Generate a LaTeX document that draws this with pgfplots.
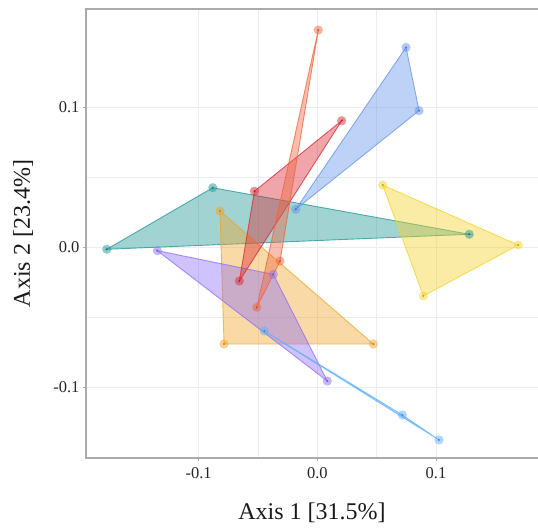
\documentclass[border=0pt]{standalone}
\usepackage{pgfplots}
\pgfplotsset{compat=1.18}
\usepackage{fontspec}
\setmainfont{Liberation Serif}
\definecolor{ctomato}{RGB}{240,100,60}
\definecolor{cred}{RGB}{218,40,50}
\definecolor{cblue}{RGB}{100,145,235}
\definecolor{cteal}{RGB}{30,150,150}
\definecolor{cyellow}{RGB}{245,210,40}
\definecolor{corange}{RGB}{240,165,40}
\definecolor{cpurple}{RGB}{140,110,250}
\definecolor{clblue}{RGB}{90,175,255}
\definecolor{framegray}{RGB}{170,170,170}
\definecolor{gridgray}{RGB}{236,236,236}
\pgfplotsset{
  hull/.style={color=#1, draw opacity=0.75, line width=0.9pt, fill=#1, fill opacity=0.42, mark=none},
  halo/.style={only marks, color=#1, mark=*, mark size=4.6pt, mark options={solid, fill=#1, draw opacity=0, fill opacity=0.5}},
  dot/.style={only marks, color=#1!75!black, mark=*, mark size=1.1pt, mark options={solid, fill=#1!75!black, draw opacity=0, fill opacity=0.9}},
}
\begin{document}
\begin{tikzpicture}
\useasboundingbox (0,0) rectangle (538pt,528pt);
\begin{axis}[
  at={(86pt,70pt)}, anchor=south west,
  scale only axis, width=452pt, height=449pt,
  xmin=-0.1949, xmax=0.1859, ymin=-0.1503, ymax=0.170,
  xtick={-0.1,0,0.1}, ytick={-0.1,0,0.1},
  minor tick num=1, minor tick length=0pt,
  grid=both,
  major grid style={gridgray, line width=0.8pt},
  minor grid style={gridgray, line width=0.8pt},
  axis line style={draw=none},
  tick align=outside, major tick length=3pt,
  xtick pos=bottom, ytick pos=left,
  tick style={framegray, line width=0.8pt},
  xticklabel style={/pgf/number format/fixed, /pgf/number format/precision=1, /pgf/number format/fixed zerofill, yshift=-3pt},
  yticklabel style={/pgf/number format/fixed, /pgf/number format/precision=1, /pgf/number format/fixed zerofill},
  /pgf/number format/assume math mode=true,
  ticklabel style={font=\fontsize{16.5}{18}\selectfont, text=black!85},
  xlabel={Axis 1 [31.5\%]}, ylabel={Axis 2 [23.4\%]},
  label style={font=\fontsize{24}{26}\selectfont, text=black!90},
  xlabel style={at={(axis description cs:0.5,-0.123)}, anchor=center},
  ylabel style={at={(axis description cs:-0.139,0.5)}, anchor=center},
  clip mode=individual,
]
% teal
\addplot[hull=cteal] coordinates {(-0.0881,0.0425) (-0.1774,-0.0014) (0.1280,0.0093)} --cycle;
% yellow
\addplot[hull=cyellow] coordinates {(0.0551,0.0444) (0.1693,0.0016) (0.0893,-0.0347)} --cycle;
% orange
\addplot[hull=corange] coordinates {(-0.0820,0.0259) (-0.0786,-0.0690) (0.0472,-0.0690)} --cycle;
% purple
\addplot[hull=cpurple] coordinates {(-0.1348,-0.0024) (-0.0371,-0.0193) (0.0084,-0.0954)} --cycle;
% light blue
\addplot[hull=clblue] coordinates {(-0.0446,-0.0597) (0.0716,-0.1196) (0.1025,-0.1374)} --cycle;
% red
\addplot[hull=cred] coordinates {(0.0205,0.0903) (-0.0530,0.0400) (-0.0657,-0.0240)} --cycle;
% tomato
\addplot[hull=ctomato] coordinates {(0.0008,0.1550) (-0.0314,-0.0098) (-0.0510,-0.0428)} --cycle;
% blue
\addplot[hull=cblue] coordinates {(0.0747,0.1426) (0.0857,0.0975) (-0.0182,0.0271)} --cycle;
% markers
\addplot[halo=cteal] coordinates {(-0.0881,0.0425) (-0.1774,-0.0014) (0.1280,0.0093)};
\addplot[dot=cteal] coordinates {(-0.0881,0.0425) (-0.1774,-0.0014) (0.1280,0.0093)};
\addplot[halo=cyellow] coordinates {(0.0551,0.0444) (0.1693,0.0016) (0.0893,-0.0347)};
\addplot[dot=cyellow] coordinates {(0.0551,0.0444) (0.1693,0.0016) (0.0893,-0.0347)};
\addplot[halo=corange] coordinates {(-0.0820,0.0259) (-0.0786,-0.0690) (0.0472,-0.0690)};
\addplot[dot=corange] coordinates {(-0.0820,0.0259) (-0.0786,-0.0690) (0.0472,-0.0690)};
\addplot[halo=cpurple] coordinates {(-0.1348,-0.0024) (-0.0371,-0.0193) (0.0084,-0.0954)};
\addplot[dot=cpurple] coordinates {(-0.1348,-0.0024) (-0.0371,-0.0193) (0.0084,-0.0954)};
\addplot[halo=clblue] coordinates {(-0.0446,-0.0597) (0.0716,-0.1196) (0.1025,-0.1374)};
\addplot[dot=clblue] coordinates {(-0.0446,-0.0597) (0.0716,-0.1196) (0.1025,-0.1374)};
\addplot[halo=cred] coordinates {(0.0205,0.0903) (-0.0530,0.0400) (-0.0657,-0.0240)};
\addplot[dot=cred] coordinates {(0.0205,0.0903) (-0.0530,0.0400) (-0.0657,-0.0240)};
\addplot[halo=ctomato] coordinates {(0.0008,0.1550) (-0.0314,-0.0098) (-0.0510,-0.0428)};
\addplot[dot=ctomato] coordinates {(0.0008,0.1550) (-0.0314,-0.0098) (-0.0510,-0.0428)};
\addplot[halo=cblue] coordinates {(0.0747,0.1426) (0.0857,0.0975) (-0.0182,0.0271)};
\addplot[dot=cblue] coordinates {(0.0747,0.1426) (0.0857,0.0975) (-0.0182,0.0271)};
\draw[framegray, line width=1.3pt] (rel axis cs:1,1) -- (rel axis cs:0,1) -- (rel axis cs:0,0) -- (rel axis cs:1,0);
\end{axis}
\end{tikzpicture}
\end{document}
